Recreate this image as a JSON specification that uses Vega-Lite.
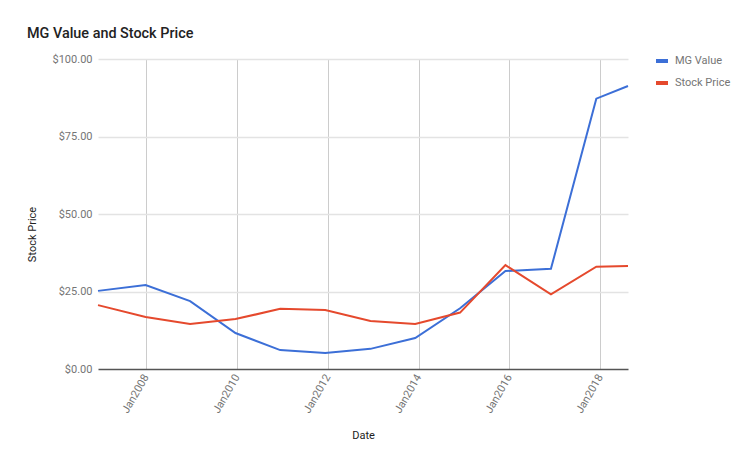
{
  "$schema": "https://vega.github.io/schema/vega-lite/v6.json",
  "width": 530,
  "height": 310,
  "autosize": {"type": "none"},
  "padding": {"left": 98, "top": 59, "right": 125, "bottom": 99},
  "background": "white",
  "title": {
    "text": "MG Value and Stock Price",
    "anchor": "start",
    "frame": "group",
    "dx": -71,
    "offset": 12,
    "font": "Roboto",
    "fontSize": 14.4,
    "fontWeight": 500,
    "color": "#222222"
  },
  "config": {
    "view": {"stroke": null},
    "font": "Roboto"
  },
  "data": {
    "values": [
      {"date": "2006-12-10", "series": "MG Value", "value": 25.2},
      {"date": "2007-12-28", "series": "MG Value", "value": 27.1},
      {"date": "2008-12-20", "series": "MG Value", "value": 21.9},
      {"date": "2009-12-20", "series": "MG Value", "value": 11.6},
      {"date": "2010-12-15", "series": "MG Value", "value": 6.1},
      {"date": "2011-12-12", "series": "MG Value", "value": 5.2},
      {"date": "2012-12-10", "series": "MG Value", "value": 6.5},
      {"date": "2013-12-05", "series": "MG Value", "value": 10.0},
      {"date": "2014-12-01", "series": "MG Value", "value": 19.6},
      {"date": "2015-12-01", "series": "MG Value", "value": 31.6},
      {"date": "2016-12-01", "series": "MG Value", "value": 32.3},
      {"date": "2017-12-01", "series": "MG Value", "value": 87.2},
      {"date": "2018-08-13", "series": "MG Value", "value": 91.3},
      {"date": "2006-12-10", "series": "Stock Price", "value": 20.6},
      {"date": "2007-12-28", "series": "Stock Price", "value": 16.8},
      {"date": "2008-12-20", "series": "Stock Price", "value": 14.5},
      {"date": "2009-12-20", "series": "Stock Price", "value": 16.1},
      {"date": "2010-12-15", "series": "Stock Price", "value": 19.4},
      {"date": "2011-12-12", "series": "Stock Price", "value": 19.0},
      {"date": "2012-12-10", "series": "Stock Price", "value": 15.5},
      {"date": "2013-12-05", "series": "Stock Price", "value": 14.5},
      {"date": "2014-12-01", "series": "Stock Price", "value": 18.2},
      {"date": "2015-12-01", "series": "Stock Price", "value": 33.5},
      {"date": "2016-12-01", "series": "Stock Price", "value": 24.1},
      {"date": "2017-12-01", "series": "Stock Price", "value": 33.0},
      {"date": "2018-08-13", "series": "Stock Price", "value": 33.2}
    ]
  },
  "mark": {"type": "line", "strokeWidth": 2},
  "encoding": {
    "x": {
      "field": "date",
      "type": "temporal",
      "scale": {"nice": false},
      "axis": {
        "title": "Date",
        "values": [
          {"year": 2008, "month": 1, "date": 1},
          {"year": 2010, "month": 1, "date": 1},
          {"year": 2012, "month": 1, "date": 1},
          {"year": 2014, "month": 1, "date": 1},
          {"year": 2016, "month": 1, "date": 1},
          {"year": 2018, "month": 1, "date": 1}
        ],
        "format": "%b%Y",
        "labelAngle": -60,
        "labelAlign": "right",
        "labelBaseline": "middle",
        "labelPadding": 6,
        "labelColor": "#757575",
        "labelFontSize": 11,
        "ticks": false,
        "grid": true,
        "gridColor": "#cccccc",
        "domain": false,
        "titleFontSize": 11,
        "titleFontWeight": "normal",
        "titleColor": "#222222",
        "titleY": 66,
        "titleBaseline": "middle"
      }
    },
    "y": {
      "field": "value",
      "type": "quantitative",
      "scale": {"domain": [0, 100], "nice": false},
      "axis": {
        "title": "Stock Price",
        "values": [0, 25, 50, 75, 100],
        "format": "$,.2f",
        "labelColor": "#757575",
        "labelFontSize": 11,
        "labelPadding": 6,
        "ticks": false,
        "domain": false,
        "grid": true,
        "gridColor": {"condition": {"test": "datum.value === 0", "value": "#555555"}, "value": "#e3e3e3"},
        "gridWidth": 1.5,
        "titleFontSize": 11,
        "titleFontWeight": "normal",
        "titleColor": "#222222",
        "titleX": -66,
        "titleY": 175,
        "titleAlign": "center",
        "titleBaseline": "middle"
      }
    },
    "color": {
      "field": "series",
      "type": "nominal",
      "scale": {"domain": ["MG Value", "Stock Price"], "range": ["#3c6fd7", "#e5492d"]},
      "legend": {
        "title": null,
        "orient": "none",
        "legendX": 556,
        "legendY": -6,
        "symbolType": "stroke",
        "symbolStrokeWidth": 4,
        "symbolSize": 144,
        "labelFontSize": 11,
        "labelColor": "#757575",
        "labelOffset": 5,
        "rowPadding": 6
      }
    }
  }
}
